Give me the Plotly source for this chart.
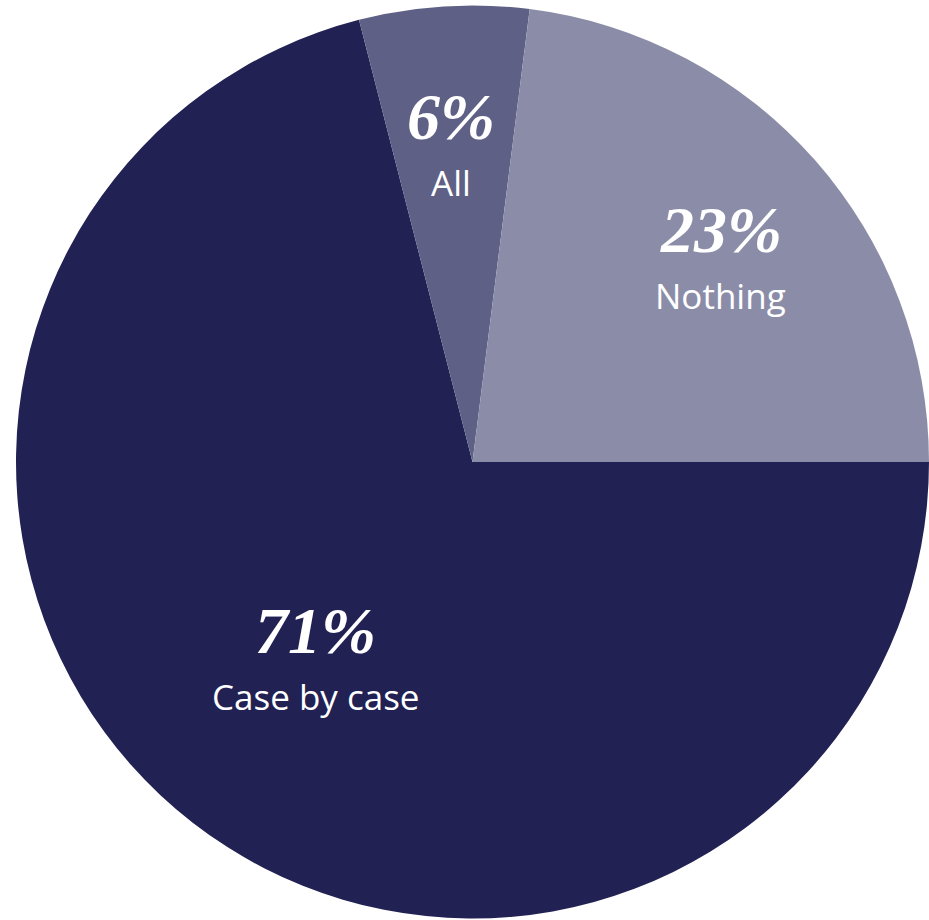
import math
import plotly.graph_objects as go

categories = ["Case by case", "All", "Nothing"]
values = [71, 6, 23]
colors = ["#212153", "#5f6085", "#8b8da8"]
label_radius = [0.56, 0.68, 0.69]   # fraction of radius where each label block sits
label_dx = [0, -2, 12]              # fine pixel nudges of label blocks
label_dy = [0, 3, -9]

W, H = 929, 920
ML, MT, MR, MB = 16, 5, 0, 1
PW, PH = W - ML - MR, H - MT - MB
R = min(PW, PH) / 2.0

fig = go.Figure(go.Pie(
    labels=categories,
    values=values,
    sort=False,
    direction="clockwise",
    rotation=90,
    marker=dict(colors=colors, line=dict(width=0)),
    textinfo="none",
    hoverinfo="label+percent",
    showlegend=False,
    domain=dict(x=[0, 1], y=[0, 1]),
))

# angles measured counterclockwise from 3 o'clock; slices run clockwise from 0
total = sum(values)
start = 0.0
annotations = []
for cat, v, rf, dx, dy in zip(categories, values, label_radius, label_dx, label_dy):
    span = v / total * 360.0
    mid = start - span / 2.0
    start -= span
    a = math.radians(mid)
    x = 0.5 + rf * R * math.cos(a) / PW
    y = 0.5 + rf * R * math.sin(a) / PH
    pct = round(v / total * 100)
    annotations.append(dict(
        x=x, y=y, xref="paper", yref="paper", showarrow=False,
        text=f"<b><i>{pct}%</i></b>", xshift=dx, yshift=33 + dy,
        font=dict(family="Liberation Serif", size=66, color="white"),
        xanchor="center", yanchor="middle",
    ))
    annotations.append(dict(
        x=x, y=y, xref="paper", yref="paper", showarrow=False,
        text=cat, xshift=dx, yshift=-33 + dy,
        font=dict(family="Open Sans", size=35, color="white"),
        xanchor="center", yanchor="middle",
    ))

fig.update_layout(
    width=W, height=H,
    margin=dict(l=ML, r=MR, t=MT, b=MB, pad=0),
    paper_bgcolor="white",
    plot_bgcolor="white",
    annotations=annotations,
)

fig.write_html("out.html",
               config={"displayModeBar": False},
               post_script="document.body.style.margin='0';document.body.style.overflow='hidden';")
